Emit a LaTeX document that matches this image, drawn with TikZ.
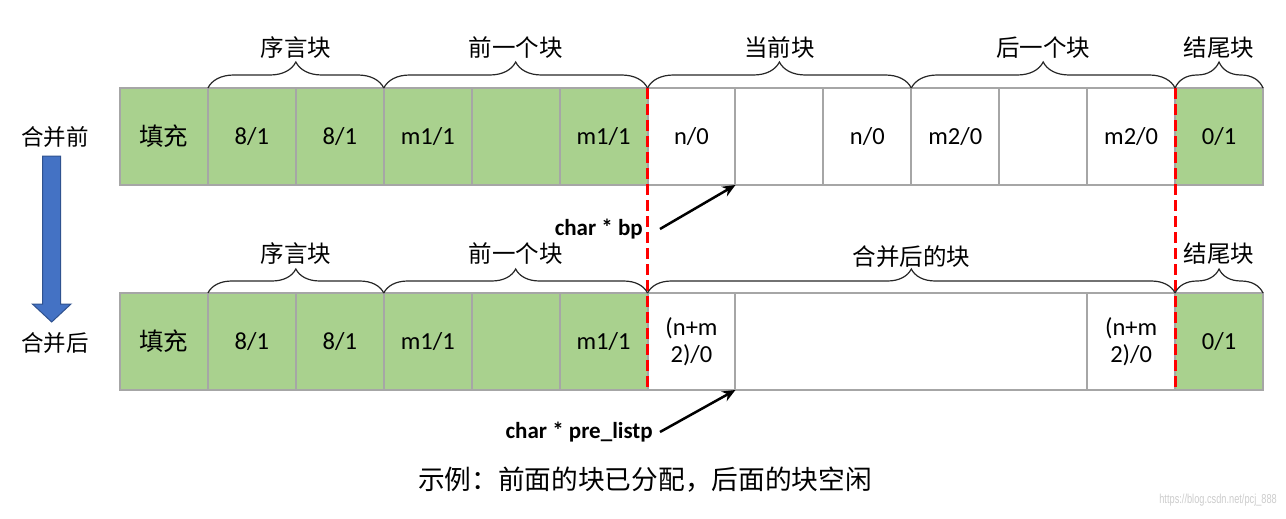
\documentclass[tikz,border=0pt]{standalone}
\usepackage{fontspec}
\setmainfont{Carlito}
\newfontfamily\cjk{Noto Sans CJK SC}
\newfontfamily\wmfont{Liberation Sans}
\usetikzlibrary{decorations.pathreplacing,arrows.meta}
\definecolor{cellgreen}{HTML}{A9D18E}
\definecolor{cellgray}{HTML}{A6A6A6}
\definecolor{arrowblue}{HTML}{4472C4}
\definecolor{arrowblueedge}{HTML}{2F528F}
\definecolor{dashred}{HTML}{FF0000}
\tikzset{
  cell/.style={draw=cellgray, line width=2pt, minimum width=87.92pt, minimum height=97pt,
    inner sep=0pt, outer sep=0pt, anchor=north west, font=\fontsize{24.5}{27}\selectfont, align=center},
  gcell/.style={cell, fill=cellgreen},
  wcell/.style={cell, fill=white},
  bracestyle/.style={decorate, decoration={brace, amplitude=#1}, line width=1.2pt, draw=black!85},
  bracelabel/.style={font=\cjk\fontsize{23.5}{27}\selectfont, inner sep=0pt},
  sidelabel/.style={font=\cjk\fontsize{22.5}{26}\selectfont, inner sep=0pt},
  reddash/.style={draw=dashred, line width=3pt, dash pattern=on 11pt off 5pt},
  ptrlabel/.style={font=\bfseries\fontsize{23}{26}\selectfont, inner sep=0pt},
  ptrarrow/.style={-{Stealth[length=13pt,width=11pt]}, line width=2.5pt},
}
\begin{document}
\begin{tikzpicture}[x=1pt,y=-1pt]
\useasboundingbox (0,0) rectangle (1286,519);
% top row
\node[gcell] (t1) at (120,88) {\cjk 填充};
\node[gcell] (t2) at (207.92,88) {8/1};
\node[gcell] (t3) at (295.85,88) {8/1};
\node[gcell] (t4) at (383.77,88) {m1/1};
\node[gcell] (t5) at (471.69,88) {};
\node[gcell] (t6) at (559.62,88) {m1/1};
\node[wcell] (t7) at (647.54,88) {n/0};
\node[wcell] (t8) at (735.46,88) {};
\node[wcell] (t9) at (823.38,88) {n/0};
\node[wcell] (t10) at (911.31,88) {m2/0};
\node[wcell] (t11) at (999.23,88) {};
\node[wcell] (t12) at (1087.15,88) {m2/0};
\node[gcell] (t13) at (1175.08,88) {0/1};
% bottom row
\node[gcell] (b1) at (120,293) {\cjk 填充};
\node[gcell] (b2) at (207.92,293) {8/1};
\node[gcell] (b3) at (295.85,293) {8/1};
\node[gcell] (b4) at (383.77,293) {m1/1};
\node[gcell] (b5) at (471.69,293) {};
\node[gcell] (b6) at (559.62,293) {m1/1};
\node[wcell] (b7) at (647.54,293) {(n+m\\2)/0};
\node[wcell, minimum width=351.69pt] (b8) at (735.46,293) {};
\node[wcell] (b9) at (1087.15,293) {(n+m\\2)/0};
\node[gcell] (b10) at (1175.08,293) {0/1};
% red dashed separators
\draw[reddash] (t7.north west) -- (b7.south west);
\draw[reddash] (t13.north west) -- (b10.south west);
% top braces
\draw[bracestyle=26pt] (t2.north west) -- (t3.north east);
\draw[bracestyle=26pt] (t4.north west) -- (t6.north east);
\draw[bracestyle=26pt] (t7.north west) -- (t9.north east);
\draw[bracestyle=26pt] (t10.north west) -- (t12.north east);
\draw[bracestyle=26pt] (t13.north west) -- (t13.north east);
\node[bracelabel] (l1) at (295.85,48) {序言块};
\node[bracelabel] (l2) at (515.65,48) {前一个块};
\node[bracelabel] (l3) at (779.42,48) {当前块};
\node[bracelabel] (l4) at (1043.2,48) {后一个块};
\node[bracelabel] (l5) at (1219,48) {结尾块};
% bottom braces
\draw[bracestyle=24pt] (b2.north west) -- (b3.north east);
\draw[bracestyle=24pt] (b4.north west) -- (b6.north east);
\draw[bracestyle=24pt] (b7.north west) -- (b9.north east);
\draw[bracestyle=24pt] (b10.north west) -- (b10.north east);
\node[bracelabel] (m1) at (295.85,254) {序言块};
\node[bracelabel] (m2) at (515.65,254) {前一个块};
\node[bracelabel] (m3) at (911.3,257) {合并后的块};
\node[bracelabel] (m4) at (1219,254) {结尾块};
% side labels and blue arrow
\node[sidelabel] (before) at (55,137) {合并前};
\node[sidelabel] (after) at (55,343) {合并后};
\draw[fill=arrowblue, draw=arrowblueedge, line width=1pt]
  (42.7,156) -- (60.7,156) -- (60.7,304) -- (71,304) -- (51.7,322) -- (32.4,304) -- (42.7,304) -- cycle;
% pointers
\node[ptrlabel, anchor=east] (bp) at (643,229) {char * bp};
\draw[ptrarrow] ([xshift=17pt]bp.east) -- (t8.south west);
\node[ptrlabel, anchor=east] (pl) at (653,432) {char * pre\_listp};
\draw[ptrarrow] ([xshift=7pt]pl.east) -- (b8.south west);
% caption
\node[font=\cjk\fontsize{26.7}{30}\selectfont, inner sep=0pt] (cap) at (645,480) {示例：前面的块已分配，后面的块空闲};
\node[font=\wmfont\fontsize{13}{15}\selectfont, text=black!20, xscale=0.71, anchor=east, inner sep=0pt] (wm) at (1277,500) {https://blog.csdn.net/pcj\_888};
\end{tikzpicture}
\end{document}
